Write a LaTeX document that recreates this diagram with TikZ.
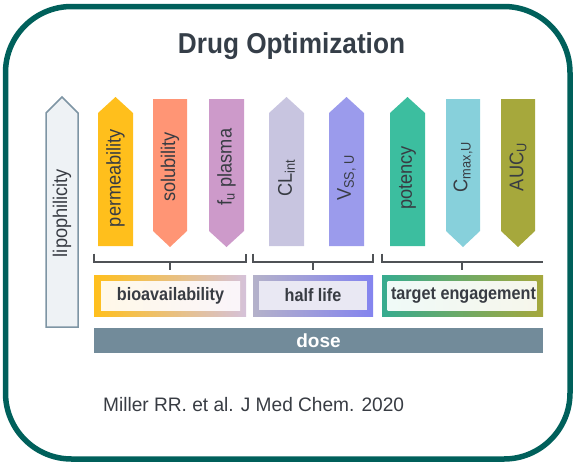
\documentclass[tikz,border=0pt]{standalone}
\usepackage{fontspec}
\setmainfont{Liberation Sans}
\usepackage{graphicx}

\definecolor{framegreen}{HTML}{00605B}
\definecolor{titleink}{HTML}{353E48}
\definecolor{ink}{HTML}{383C43}
\definecolor{lipofill}{HTML}{EEF2F5}
\definecolor{lipoline}{HTML}{7E95A4}
\definecolor{permc}{HTML}{FFBF1C}
\definecolor{soluc}{HTML}{FF9575}
\definecolor{fuc}{HTML}{CD9ACA}
\definecolor{clc}{HTML}{C8C5E0}
\definecolor{vssc}{HTML}{9B9BEC}
\definecolor{potc}{HTML}{3CBE9F}
\definecolor{cmaxc}{HTML}{87D0DB}
\definecolor{aucc}{HTML}{A6A83C}
\definecolor{dosec}{HTML}{728B9A}
\definecolor{bracketc}{HTML}{4F5256}

\newcommand\ArrowLabel[1]{\scalebox{0.92}[1]{#1}}
\newcommand\BoxLabel[1]{\scalebox{0.9}[1]{#1}}

\tikzset{
  arrowtext/.style={rotate=90, text=ink, inner sep=0pt,
    font=\fontsize{19.8}{23}\selectfont},
  boxtext/.style={text=ink, inner sep=0pt,
    font=\fontsize{18}{21}\bfseries\selectfont},
  bracketline/.style={draw=bracketc, line width=1.3pt},
  outerbox/.style={minimum height=40.5pt, inner sep=0pt, draw=none},
  innerbox/.style={minimum height=29pt, inner sep=0pt, draw=none},
}

% arrow pointing up: left x, right x, colour, node name, label
\newcommand\ArrowUp[5]{%
  \fill[#3] (#1,246) -- (#1,113) -- ({(#1+#2)/2},97) -- (#2,113) -- (#2,246) -- cycle;
  \node[arrowtext] (#4) at ({(#1+#2)/2},178) {\ArrowLabel{#5}};}
% arrow pointing down: left x, right x, colour, node name, label
\newcommand\ArrowDown[5]{%
  \fill[#3] (#1,99) -- (#2,99) -- (#2,231) -- ({(#1+#2)/2},247) -- (#1,231) -- cycle;
  \node[arrowtext] (#4) at ({(#1+#2)/2},167) {\ArrowLabel{#5}};}
% bracket: left x, right x, middle tick x
\newcommand\Bracket[3]{%
  \draw[bracketline] (#1,253.5) -- (#1,262) -- (#2,262) -- (#2,253.5);
  \draw[bracketline] (#3,262) -- (#3,270);}

\begin{document}
\begin{tikzpicture}[x=1pt,y=-1pt]
\useasboundingbox (0,0) rectangle (576,461);

% outer frame
\draw[line width=5.5pt, framegreen, rounded corners=66pt] (5.5,6.5) rectangle (570,459);

% title
\node[text=titleink, inner sep=0pt, anchor=base] (title) at (291.5,53.3)
  {\scalebox{0.91}[1]{\fontsize{28.8}{32}\bfseries\selectfont Drug Optimization}};

% lipophilicity arrow
\filldraw[fill=lipofill, draw=lipoline, line width=1.5pt, line join=miter]
  (46,327) -- (46,113) -- (62,97) -- (78,113) -- (78,327) -- cycle;
\node[arrowtext] (lipo) at (62,213) {\ArrowLabel{lipophilicity}};

% property arrows
\ArrowUp{98}{133}{permc}{perm}{permeability}
\ArrowDown{153}{187}{soluc}{solu}{solubility}
\ArrowDown{209}{244}{fuc}{fu}{f\textsubscript{u} plasma}
\ArrowUp{269}{304}{clc}{cl}{CL\textsubscript{int}}
\ArrowUp{329}{364}{vssc}{vss}{V\textsubscript{SS, U}}
\ArrowUp{390}{425}{potc}{pot}{potency}
\ArrowDown{446}{480}{cmaxc}{cmax}{C\textsubscript{max,U}}
\ArrowDown{501}{535}{aucc}{auc}{AUC\textsubscript{U}}

% brackets
\Bracket{94}{246}{170}
\Bracket{253}{373}{313}
\draw[bracketline] (382,253.5) -- (382,262) -- (543,262);
\draw[bracketline] (462,262) -- (462,270);

% grouped outcomes
\node[outerbox, minimum width=152pt, left color=permc, middle color=soluc!85!white, right color=fuc!75!lipoline!60!white] (bioframe) at (170,295.75) {};
\node[innerbox, minimum width=139pt, left color=permc!10!white, right color=fuc!10!white] (bio) at (170.5,295.5) {};
\node[boxtext] (biotext) at (170.5,295.5) {\BoxLabel{bioavailability}};

\node[outerbox, minimum width=120pt, left color=clc!90!black, right color=vssc!85!blue] (halfframe) at (313,295.75) {};
\node[innerbox, minimum width=108pt, fill=clc!40!white] (half) at (313,295.5) {};
\node[boxtext] (halftext) at (313,295.5) {\BoxLabel{half life}};

\node[outerbox, minimum width=161pt, left color=potc!90!black, middle color=cmaxc, right color=aucc] (targetframe) at (462.5,295.75) {};
\node[innerbox, minimum width=149pt, left color=potc!8!white, right color=aucc!10!white] (target) at (462,295.5) {};
\node[boxtext] (targettext) at (463.5,295.5) {\BoxLabel{target engagement}};

% dose bar
\node[fill=dosec, minimum width=449pt, minimum height=25.5pt, inner sep=0pt,
      text=white, font=\fontsize{19}{22}\bfseries\selectfont] (dose) at (318.5,340.25) {dose};

% reference line
\node[text=ink, inner sep=0pt, anchor=base west,
      font=\fontsize{19.5}{22}\selectfont] (cite) at (103,411.5)
  {\scalebox{0.98}[1]{Miller RR. et al. J Med Chem. 2020}};
\end{tikzpicture}
\end{document}
